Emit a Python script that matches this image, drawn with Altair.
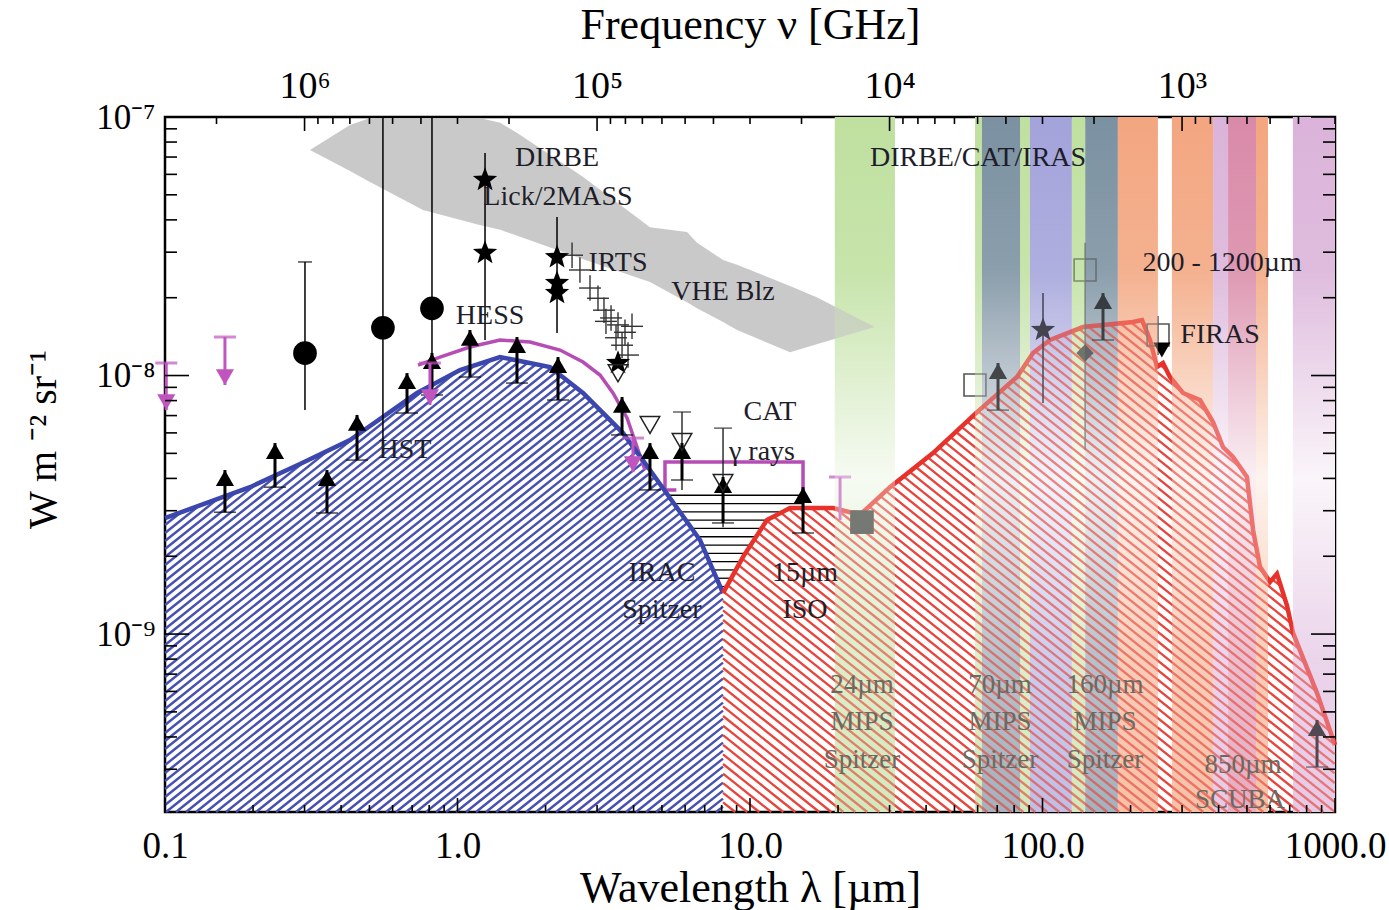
import numpy as np
import pandas as pd
import altair as alt

W, H = 1170, 695
X_DOM = [0.1, 1000.0]
Y_DOM = [2.05e-10, 1e-7]
FONT = "Liberation Serif"

# ---------------- data ----------------
blue_lam = [0.1, 0.1953, 0.2894, 0.4290, 0.7270, 1.020, 1.397, 2.071, 2.686, 3.680, 4.550, 6.748, 8.087]
blue_F = [2.81e-9, 3.70e-9, 4.55e-9, 5.63e-9, 8.56e-9, 1.050e-8, 1.179e-8, 1.079e-8, 8.56e-9, 5.99e-9, 4.31e-9, 2.31e-9, 1.44e-9]

red_lam = [8.087, 9.465, 11.43, 13.70, 19.22, 21.98, 24.14, 30.10, 42.23, 59.73, 81.81, 92.8, 106.1, 137.6,
           203.9, 218.9, 233.1, 246.3, 258.2, 272.8, 302.2, 345.5, 382.8, 414.1, 448.0, 500.2, 524.5, 554.1,
           599.6, 633.3, 685.3, 718.5, 868.1, 1000.0]
red_F = [1.44e-9, 1.99e-9, 2.76e-9, 3.07e-9, 3.07e-9, 2.96e-9, 2.94e-9, 3.70e-9, 5.01e-9, 7.22e-9, 9.87e-9,
         1.222e-8, 1.372e-8, 1.540e-8, 1.611e-8, 1.640e-8, 1.372e-8, 1.079e-8, 1.118e-8, 9.87e-9, 8.56e-9,
         8.04e-9, 6.61e-9, 5.29e-9, 4.84e-9, 4.05e-9, 2.53e-9, 1.82e-9, 1.59e-9, 1.71e-9, 1.29e-9, 1.01e-9,
         5.91e-10, 3.72e-10]

mag_lam = [0.7328, 0.8715, 1.103, 1.397, 1.770, 2.241, 2.686, 3.071, 3.400, 3.798, 4.109, 4.375]
mag_F = [1.098e-8, 1.179e-8, 1.289e-8, 1.372e-8, 1.347e-8, 1.255e-8, 1.128e-8, 1.004e-8, 8.56e-9, 6.85e-9, 5.29e-9, 4.31e-9]

cat_lam = [5.60, 5.121, 5.121, 15.18, 15.18]
cat_F = [3.61e-9, 3.61e-9, 4.63e-9, 4.63e-9, 3.39e-9]

vhe_lam = [0.313, 0.429, 0.502, 0.762, 1.19, 1.40, 1.60, 2.69, 4.55, 6.09, 6.59, 8.09, 9.03, 13.7, 16.9, 26.7]
vhe_hi = [7.45e-8, 9.31e-8, 9.91e-8, 9.91e-8, 9.91e-8, 9.50e-8, 8.67e-8, 5.86e-8, 3.75e-8, 3.59e-8, 3.26e-8,
          2.80e-8, 2.68e-8, 2.22e-8, 2.01e-8, 1.54e-8]
vhe_lo = [7.45e-8, 6.18e-8, 5.60e-8, 4.37e-8, 3.82e-8, 3.66e-8, 3.47e-8, 2.82e-8, 2.30e-8, 1.92e-8, 1.82e-8,
          1.61e-8, 1.50e-8, 1.23e-8, 1.32e-8, 1.54e-8]

band_lo = [19.5, 58.8, 62.1, 83.8, 90.6, 126, 140, 181, 277, 383, 431, 537, 718]
band_hi = [31.3, 62.1, 83.8, 90.6, 126, 140, 181, 248, 383, 431, 537, 590, 1000]
band_kind = ["green", "green", "slate", "green", "lavender", "green", "slate", "orange", "orange",
             "lilac", "pink", "orange", "lilac"]

circ_lam = [0.301, 0.556, 0.818]
circ_F = [1.22e-8, 1.53e-8, 1.82e-8]
circ_hi = [2.75e-8, 1e-7, 1e-7]
circ_lo = [7.35e-9, 5.15e-9, 1.05e-8]

star_lam = [1.242, 1.242, 2.189, 2.189, 2.189, 3.538, 100.4]
star_F = [5.71e-8, 2.98e-8, 2.87e-8, 2.28e-8, 2.085e-8, 1.118e-8, 1.500e-8]
star_err_lam = [1.242, 2.189, 100.4]
star_err_hi = [7.26e-8, 4.10e-8, 2.085e-8]
star_err_lo = [1.372e-8, 1.46e-8, 7.83e-9]

irts_lam = [2.464, 2.622, 2.838, 3.022, 3.168, 3.349, 3.538, 3.738, 3.950, 3.652, 3.828, 3.483, 3.218]
irts_F = [2.92e-8, 2.56e-8, 2.18e-8, 1.99e-8, 1.79e-8, 1.67e-8, 1.57e-8, 1.47e-8, 1.55e-8, 1.31e-8,
          1.20e-8, 1.40e-8, 1.62e-8]

ll_lam = [0.1603, 0.2377, 0.3579, 0.4534, 0.6720, 0.8180, 1.103, 1.597, 2.206, 3.652, 4.550, 5.855,
          8.087, 15.18, 70.46, 161.0, 868.1]
ll_tip = [4.31e-9, 5.48e-9, 4.31e-9, 7.04e-9, 1.022e-8, 1.222e-8, 1.500e-8, 1.409e-8, 1.179e-8, 8.26e-9,
          5.48e-9, 5.48e-9, 4.05e-9, 3.70e-9, 1.118e-8, 2.085e-8, 4.65e-10]
ll_base = [2.96e-9, 3.70e-9, 2.94e-9, 4.71e-9, 7.16e-9, 8.41e-9, 9.87e-9, 9.35e-9, 8.04e-9, 5.89e-9,
           3.61e-9, 3.94e-9, 2.69e-9, 2.46e-9, 7.35e-9, 1.372e-8, 3.06e-10]

ul_lam = [0.101, 0.1603, 0.805, 3.98, 20.32]
ul_top = [1.118e-8, 1.409e-8, 1.118e-8, 5.73e-9, 4.05e-9]
ul_tip = [7.35e-9, 9.19e-9, 7.69e-9, 4.23e-9, 2.76e-9]
ul_head = [True, True, True, True, False]

tri_lam = [3.538, 4.550, 5.855, 8.087]
tri_F = [1.02e-8, 6.44e-9, 5.53e-9, 3.84e-9]
tri_err_lam = [5.855, 8.087]
tri_err_hi = [7.22e-9, 6.26e-9]
tri_err_lo = [3.61e-9, 2.59e-9]

osq_lam = [58.77, 139.8, 248.3]
osq_F = [9.19e-9, 2.56e-8, 1.435e-8]
osq_err_lam = [139.8, 248.3]
osq_err_hi = [3.26e-8, 1.70e-8]
osq_err_lo = [5.15e-9, 1.20e-8]

fsq_lam = [24.14]
fsq_F = [2.71e-9]
dia_lam = [139.8]
dia_F = [1.222e-8]
ftri_lam = [255.9]
ftri_F = [1.255e-8]

lab_text = ["DIRBE", "Lick/2MASS", "IRTS", "VHE Blz", "HESS", "HST", "CAT", "γ rays", "IRAC", "Spitzer",
            "15µm", "ISO", "DIRBE/CAT/IRAS", "200 - 1200µm", "FIRAS"]
lab_lam = [2.189, 2.206, 3.538, 8.087, 1.292, 0.6614, 11.70, 10.99, 5.00, 5.00, 15.42, 15.42, 60.2, 411, 404.6]
lab_F = [6.94e-8, 4.90e-8, 2.72e-8, 2.10e-8, 1.70e-8, 5.15e-9, 7.22e-9, 5.06e-9, 1.72e-9, 1.24e-9,
         1.72e-9, 1.24e-9, 6.94e-8, 2.72e-8, 1.435e-8]

blab_text = ["24µm", "MIPS", "Spitzer", "70µm", "MIPS", "Spitzer", "160µm", "MIPS", "Spitzer", "850µm", "SCUBA"]
blab_lam = [24.14, 24.14, 24.14, 71.57, 71.57, 71.57, 163.6, 163.6, 163.6, 484.8, 473.4]
blab_F = [6.35e-10, 4.57e-10, 3.26e-10, 6.35e-10, 4.57e-10, 3.26e-10, 6.35e-10, 4.57e-10, 3.26e-10,
          3.11e-10, 2.28e-10]

x_ticks_major = [0.1, 1.0, 10.0, 100.0, 1000.0]
y_ticks_major = [1e-9, 1e-8, 1e-7]
freq_major_GHz = [1e6, 1e5, 1e4, 1e3]

# ---------------- helpers ----------------
LX0, LX1 = np.log10(X_DOM[0]), np.log10(X_DOM[1])
LY0, LY1 = np.log10(Y_DOM[0]), np.log10(Y_DOM[1])


def to_u(lam):
    return (np.log10(np.asarray(lam, float)) - LX0) / (LX1 - LX0) * W


def to_v(F):
    return (np.log10(np.asarray(F, float)) - LY0) / (LY1 - LY0) * H


def from_u(u):
    return 10 ** (LX0 + np.asarray(u) / W * (LX1 - LX0))


def from_v(v):
    return 10 ** (LY0 + np.asarray(v) / H * (LY1 - LY0))


xscale = alt.Scale(type="log", domain=X_DOM, nice=False)
yscale = alt.Scale(type="log", domain=Y_DOM, nice=False)

x_axis = alt.Axis(values=x_ticks_major, format=".1f", ticks=False, domain=False, grid=False,
                  labelFont=FONT, labelFontSize=37, labelPadding=16, labelFlush=False, labelOverlap=False,
                  labelColor="black", title="Wavelength λ [µm]", titleFont=FONT, titleFontSize=44,
                  titleFontWeight="normal", titlePadding=2, titleColor="black")
y_axis = alt.Axis(values=y_ticks_major, ticks=False, domain=False, grid=False,
                  labelExpr="datum.value < 5e-9 ? '10⁻⁹' : datum.value < 5e-8 ? '10⁻⁸' : '10⁻⁷'",
                  labelFont=FONT, labelFontSize=35, labelPadding=10, labelOverlap=False, labelColor="black",
                  title="W m ⁻² sr⁻¹", titleFont=FONT, titleFontSize=40, titleFontWeight="normal",
                  titleColor="black", titleX=-122, titleY=322, titleAngle=-90, titleBaseline="middle")


def X(f):
    return alt.X(f"{f}:Q", scale=xscale, axis=x_axis)


def Y(f):
    return alt.Y(f"{f}:Q", scale=yscale, axis=y_axis)


def hatch(lam, F, u_lo, u_hi, slope, spacing, direction):
    uu = np.arange(u_lo, u_hi + 0.01, 0.25)
    top = np.interp(uu, to_u(lam), to_v(F))
    vmax = top.max()
    rows = []
    if direction > 0:
        cs = np.arange(u_lo - vmax / slope, u_hi, spacing)
    else:
        cs = np.arange(u_lo, u_hi + vmax / slope, spacing)
    for c in cs:
        v = slope * (uu - c) if direction > 0 else slope * (c - uu)
        inside = (v >= -0.3) & (v <= top)
        if not inside.any():
            continue
        idx = np.flatnonzero(inside)
        breaks = np.flatnonzero(np.diff(idx) > 1)
        starts = np.r_[idx[0], idx[breaks + 1]]
        ends = np.r_[idx[breaks], idx[-1]]
        for a, b in zip(starts, ends):
            if b - a < 2:
                continue
            va, vb = max(v[a], 0.0), max(v[b], 0.0)
            rows.append({"x": from_u(uu[a]), "y": from_v(va), "x2": from_u(uu[b]), "y2": from_v(vb)})
    return pd.DataFrame(rows)


def mix(c, t):
    r, g, b = int(c[1:3], 16), int(c[3:5], 16), int(c[5:7], 16)
    return "#%02x%02x%02x" % (round(r + (255 - r) * t), round(g + (255 - g) * t), round(b + (255 - b) * t))


band_colors = {"green": "#bfe09f", "slate": "#7b91a1", "lavender": "#a3a3db", "orange": "#f3a680",
               "lilac": "#dbb3da", "pink": "#d98aa8"}
bands = pd.DataFrame({"lo": band_lo, "hi": band_hi, "kind": band_kind})


def band_layers(opacity, fade):
    out = []
    for kind, base in band_colors.items():
        sub = bands[bands["kind"] == kind]
        grad = alt.Gradient(gradient="linear", x1=0, x2=0, y1=0, y2=1, stops=[
            alt.GradientStop(color=base, offset=0),
            alt.GradientStop(color=mix(base, 0.12), offset=0.22),
            alt.GradientStop(color=mix(base, fade), offset=0.52),
            alt.GradientStop(color=mix(base, 0.45), offset=0.78),
            alt.GradientStop(color=mix(base, 0.3), offset=1),
        ])
        out.append(alt.Chart(sub).mark_rect(fill=grad, opacity=opacity).encode(x=X("lo"), x2="hi"))
    return out


# ---------------- layers ----------------
layers = []

# instrument bands underneath
layers += band_layers(1.0, 0.85)

# VHE blazar band
vhe = pd.DataFrame({"lam": vhe_lam, "hi": vhe_hi, "lo": vhe_lo})
layers.append(alt.Chart(vhe).mark_area(color="#c3c1c1", opacity=0.88).encode(x=X("lam"), y=Y("hi"), y2="lo"))

# hatching
u_split = float(to_u(blue_lam[-1]))
bh = hatch(blue_lam, blue_F, 0.0, u_split, 0.8, 10.0, +1)
rh = hatch(red_lam, red_F, u_split, float(W), 0.8, 12.0, -1)
layers.append(alt.Chart(bh).mark_rule(color="#4650b0", strokeWidth=2.4).encode(x=X("x"), y=Y("y"), x2="x2", y2="y2"))
layers.append(alt.Chart(rh).mark_rule(color="#e8443c", strokeWidth=2.3).encode(x=X("x"), y=Y("y"), x2="x2", y2="y2"))

# horizontal lines in the trough between the curves
bu = to_u(blue_lam)
bv = to_v(blue_F)
desc = np.array(blue_lam) >= 1.4
ru = to_u(red_lam)[:4]
rv = to_v(red_F)[:4]
cap_u = float(to_u(15.18))
trows = []
for v in np.arange(to_v(1.50e-9) + 2, to_v(3.55e-9), 8.3):
    ul = np.interp(v, bv[desc][::-1], bu[desc][::-1])
    ur = np.interp(v, rv, ru) if v < rv.max() else cap_u
    ur = min(ur, cap_u)
    if ur > ul:
        trows.append({"x": from_u(ul), "x2": from_u(ur), "y": from_v(v)})
layers.append(alt.Chart(pd.DataFrame(trows)).mark_rule(color="black", strokeWidth=1.3)
              .encode(x=X("x"), x2="x2", y=Y("y")))

# curves
blue = pd.DataFrame({"lam": blue_lam, "F": blue_F})
red = pd.DataFrame({"lam": red_lam, "F": red_F})
mag = pd.DataFrame({"lam": mag_lam, "F": mag_F})
cat = pd.DataFrame({"lam": cat_lam, "F": cat_F, "o": range(len(cat_lam))})
layers.append(alt.Chart(mag).mark_line(color="#b54db5", strokeWidth=3.5).encode(x=X("lam"), y=Y("F")))
layers.append(alt.Chart(cat).mark_line(color="#b54db5", strokeWidth=3.5).encode(x=X("lam"), y=Y("F"), order="o:Q"))
layers.append(alt.Chart(blue).mark_line(color="#3b46ae", strokeWidth=4.5).encode(x=X("lam"), y=Y("F")))
layers.append(alt.Chart(red).mark_line(color="#e8312a", strokeWidth=4.5).encode(x=X("lam"), y=Y("F")))

# error bars
circ = pd.DataFrame({"lam": circ_lam, "F": circ_F, "hi": circ_hi, "lo": circ_lo})
layers.append(alt.Chart(circ).mark_rule(color="black", strokeWidth=1.5).encode(x=X("lam"), y=Y("hi"), y2="lo"))
layers.append(alt.Chart(circ).mark_tick(color="black", orient="horizontal", size=14, thickness=1.5)
              .encode(x=X("lam"), y=Y("hi")))
serr = pd.DataFrame({"lam": star_err_lam, "hi": star_err_hi, "lo": star_err_lo})
layers.append(alt.Chart(serr).mark_rule(color="black", strokeWidth=1.5).encode(x=X("lam"), y=Y("hi"), y2="lo"))
irts = pd.DataFrame({"lam": irts_lam, "F": irts_F})
irts["x1"] = irts["lam"] / 1.09
irts["x2"] = irts["lam"] * 1.09
irts["y1"] = irts["F"] / 1.12
irts["y2"] = irts["F"] * 1.12
layers.append(alt.Chart(irts).mark_rule(color="#333", strokeWidth=1.4).encode(x=X("x1"), x2="x2", y=Y("F")))
layers.append(alt.Chart(irts).mark_rule(color="#333", strokeWidth=1.4).encode(x=X("lam"), y=Y("y1"), y2="y2"))
terr = pd.DataFrame({"lam": tri_err_lam, "hi": tri_err_hi, "lo": tri_err_lo})
layers.append(alt.Chart(terr).mark_rule(color="#222", strokeWidth=1.4).encode(x=X("lam"), y=Y("hi"), y2="lo"))
layers.append(alt.Chart(terr).mark_tick(color="#222", orient="horizontal", size=18, thickness=1.5)
              .encode(x=X("lam"), y=Y("hi")))
oerr = pd.DataFrame({"lam": osq_err_lam, "hi": osq_err_hi, "lo": osq_err_lo})
layers.append(alt.Chart(oerr).mark_rule(color="#555", strokeWidth=1.4).encode(x=X("lam"), y=Y("hi"), y2="lo"))

# lower limits (black arrows)
ll = pd.DataFrame({"lam": ll_lam, "tip": ll_tip, "base": ll_base})
layers.append(alt.Chart(ll).mark_rule(color="black", strokeWidth=3).encode(x=X("lam"), y=Y("tip"), y2="base"))
layers.append(alt.Chart(ll).mark_tick(color="black", orient="horizontal", size=22, thickness=1.5)
              .encode(x=X("lam"), y=Y("base")))
layers.append(alt.Chart(ll).mark_point(shape="triangle-up", filled=True, color="black", size=330, opacity=1,
                                       yOffset=8).encode(x=X("lam"), y=Y("tip")))

# upper limits (magenta)
ul = pd.DataFrame({"lam": ul_lam, "top": ul_top, "tip": ul_tip, "head": ul_head})
layers.append(alt.Chart(ul).mark_rule(color="#c055c0", strokeWidth=3).encode(x=X("lam"), y=Y("top"), y2="tip"))
layers.append(alt.Chart(ul).mark_tick(color="#c055c0", orient="horizontal", size=22, thickness=3)
              .encode(x=X("lam"), y=Y("top")))
layers.append(alt.Chart(ul[ul["head"]]).mark_point(shape="triangle-down", filled=True, color="#c055c0",
                                                   size=330, opacity=1, yOffset=-8)
              .encode(x=X("lam"), y=Y("tip")))

# markers
layers.append(alt.Chart(circ).mark_point(shape="circle", filled=True, color="black", size=560, opacity=1)
              .encode(x=X("lam"), y=Y("F")))
star_path = " ".join(
    ("M" if k == 0 else "L") + "%.3f %.3f" % ((1.0 if k % 2 == 0 else 0.42) * np.cos(np.radians(-90 + 36 * k)),
                                               (1.0 if k % 2 == 0 else 0.42) * np.sin(np.radians(-90 + 36 * k)))
    for k in range(10)) + " Z"
stars = pd.DataFrame({"lam": star_lam, "F": star_F})
layers.append(alt.Chart(stars).mark_point(shape=star_path, filled=True, color="black", size=650, opacity=1)
              .encode(x=X("lam"), y=Y("F")))
tri = pd.DataFrame({"lam": tri_lam, "F": tri_F})
layers.append(alt.Chart(tri).mark_point(shape="triangle-down", filled=False, color="#222", size=380,
                                        strokeWidth=1.5, opacity=1).encode(x=X("lam"), y=Y("F")))
osq = pd.DataFrame({"lam": osq_lam, "F": osq_F})
layers.append(alt.Chart(osq).mark_point(shape="square", filled=False, color="#555", size=480,
                                        strokeWidth=1.6, opacity=1).encode(x=X("lam"), y=Y("F")))
layers.append(alt.Chart(pd.DataFrame({"lam": fsq_lam, "F": fsq_F})).mark_point(
    shape="square", filled=True, color="#333", size=560, opacity=1).encode(x=X("lam"), y=Y("F")))
layers.append(alt.Chart(pd.DataFrame({"lam": dia_lam, "F": dia_F})).mark_point(
    shape="diamond", filled=True, color="#333", size=300, opacity=1).encode(x=X("lam"), y=Y("F")))
layers.append(alt.Chart(pd.DataFrame({"lam": ftri_lam, "F": ftri_F})).mark_point(
    shape="triangle-down", filled=True, color="black", size=300, opacity=1).encode(x=X("lam"), y=Y("F")))

# faint band veil on top (washes curves and markers inside the bands)
layers += band_layers(0.35, 0.9)

# labels
labs = pd.DataFrame({"t": lab_text, "lam": lab_lam, "F": lab_F})
layers.append(alt.Chart(labs).mark_text(font=FONT, fontSize=28, color="#1e1e2a", align="center",
                                        baseline="middle").encode(x=X("lam"), y=Y("F"), text="t:N"))
blabs = pd.DataFrame({"t": blab_text, "lam": blab_lam, "F": blab_F})
layers.append(alt.Chart(blabs).mark_text(font=FONT, fontSize=27, color="#6a6a62", align="center",
                                         baseline="middle").encode(x=X("lam"), y=Y("F"), text="t:N"))

# inward ticks on all four sides
ymin = []
for n in range(-10, -7):
    for k in range(2, 10):
        val = k * 10.0 ** n
        if Y_DOM[0] <= val <= Y_DOM[1]:
            ymin.append(val)
xmin = []
for n in range(-1, 3):
    for k in range(2, 10):
        xmin.append(k * 10.0 ** n)
fmin = []
for n in range(2, 7):
    for k in range(2, 10):
        lam = 3e5 / (k * 10.0 ** n)
        if X_DOM[0] <= lam <= X_DOM[1]:
            fmin.append(lam)
fmaj = [3e5 / f for f in freq_major_GHz]

ty_maj = pd.DataFrame({"v": y_ticks_major})
ty_min = pd.DataFrame({"v": ymin})
tx_maj = pd.DataFrame({"v": x_ticks_major})
tx_min = pd.DataFrame({"v": xmin})
tf_maj = pd.DataFrame({"v": fmaj})
tf_min = pd.DataFrame({"v": fmin})
tk = dict(color="black", strokeWidth=1.6)
layers += [
    alt.Chart(ty_maj).mark_rule(**tk).encode(y=Y("v"), x=alt.value(0), x2=alt.value(24)),
    alt.Chart(ty_min).mark_rule(**tk).encode(y=Y("v"), x=alt.value(0), x2=alt.value(12)),
    alt.Chart(ty_maj).mark_rule(**tk).encode(y=Y("v"), x=alt.value(W), x2=alt.value(W - 24)),
    alt.Chart(ty_min).mark_rule(**tk).encode(y=Y("v"), x=alt.value(W), x2=alt.value(W - 12)),
    alt.Chart(tx_maj).mark_rule(**tk).encode(x=X("v"), y=alt.value(H), y2=alt.value(H - 14)),
    alt.Chart(tx_min).mark_rule(**tk).encode(x=X("v"), y=alt.value(H), y2=alt.value(H - 7)),
    alt.Chart(tf_maj).mark_rule(**tk).encode(x=X("v"), y=alt.value(0), y2=alt.value(14)),
    alt.Chart(tf_min).mark_rule(**tk).encode(x=X("v"), y=alt.value(0), y2=alt.value(7)),
]

main = alt.layer(*layers)

top_axis = alt.Chart(tf_maj).mark_point(opacity=0).encode(
    x=alt.X("v:Q", scale=alt.Scale(type="log", domain=X_DOM, nice=False),
            axis=alt.Axis(orient="top", values=fmaj, ticks=False, domain=False, grid=False,
                          labelExpr="datum.value < 1 ? '10⁶' : datum.value < 10 ? '10⁵' : datum.value < 100 ? '10⁴' : '10³'",
                          labelFont=FONT, labelFontSize=38, labelPadding=12, labelFlush=False,
                          labelOverlap=False, labelColor="black",
                          title="Frequency ν [GHz]", titleFont=FONT, titleFontSize=44,
                          titleFontWeight="normal", titlePadding=20, titleColor="black")))

chart = alt.layer(main, top_axis).resolve_scale(x="independent").properties(
    width=W, height=H,
    autosize=alt.AutoSizeParams(type="none"),
    padding={"left": 165, "top": 117, "right": 54, "bottom": 98},
    background="white",
).configure_view(stroke="black", strokeWidth=2.5)

chart.save("out.html", embed_options={"renderer": "svg", "actions": False})
